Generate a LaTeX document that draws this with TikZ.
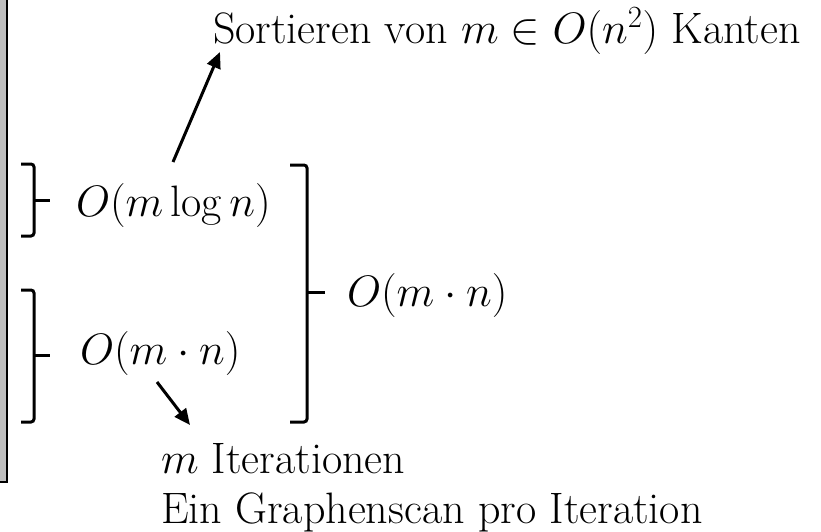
\RequirePackage{fix-cm}
\documentclass[tikz,border=0pt]{standalone}
\usepackage{fontspec}
\usetikzlibrary{arrows.meta}
\begin{document}
\begin{tikzpicture}[x=1pt,y=-1pt,
  txt/.style={inner sep=0pt,outer sep=0pt,font=\fontsize{44}{50}\selectfont},
  brace/.style={line width=3pt,rounded corners=3pt,line cap=butt},
  arr/.style={line width=3pt,-{Triangle[length=16pt,width=14pt]}}]
\useasboundingbox (0,0) rectangle (821,531);
% left grey bar
\fill[gray!50] (-2,-2) rectangle (7,482);
\draw[line width=2pt] (7,-2) -- (7,482) -- (-2,482);
% braces
\draw[brace] (21,164) -- (34,164) -- (34,236) -- (21,236);
\draw[line width=3pt] (34,200) -- (50,200);
\draw[brace] (21,290) -- (34,290) -- (34,422) -- (21,422);
\draw[line width=3pt] (34,355) -- (50,355);
\draw[brace] (290,165) -- (307,165) -- (307,422) -- (290,422);
\draw[line width=3pt] (307,292) -- (325,292);
% texts
\node[txt,anchor=base west] (top) at (213,43) {Sortieren von $m\in O(n^2)$ Kanten};
\node[txt,anchor=base west] (olog) at (76,216) {$O(m\log n)$};
\node[txt,anchor=base west] (omn1) at (80,364) {$O(m\cdot n)$};
\node[txt,anchor=base west] (omn2) at (347,306) {$O(m\cdot n)$};
\node[txt,anchor=base west] (iter) at (161,473) {$m$ Iterationen};
\node[txt,anchor=base west] (scan) at (161,523) {Ein Graphenscan pro Iteration};
% arrows
\coordinate (a1s) at (173,162);
\coordinate (a1e) at (220,52);
\coordinate (a2s) at (157,382);
\coordinate (a2e) at (190,425);
\draw[arr] (a1s) -- (a1e);
\draw[arr] (a2s) -- (a2e);
\end{tikzpicture}
\end{document}
